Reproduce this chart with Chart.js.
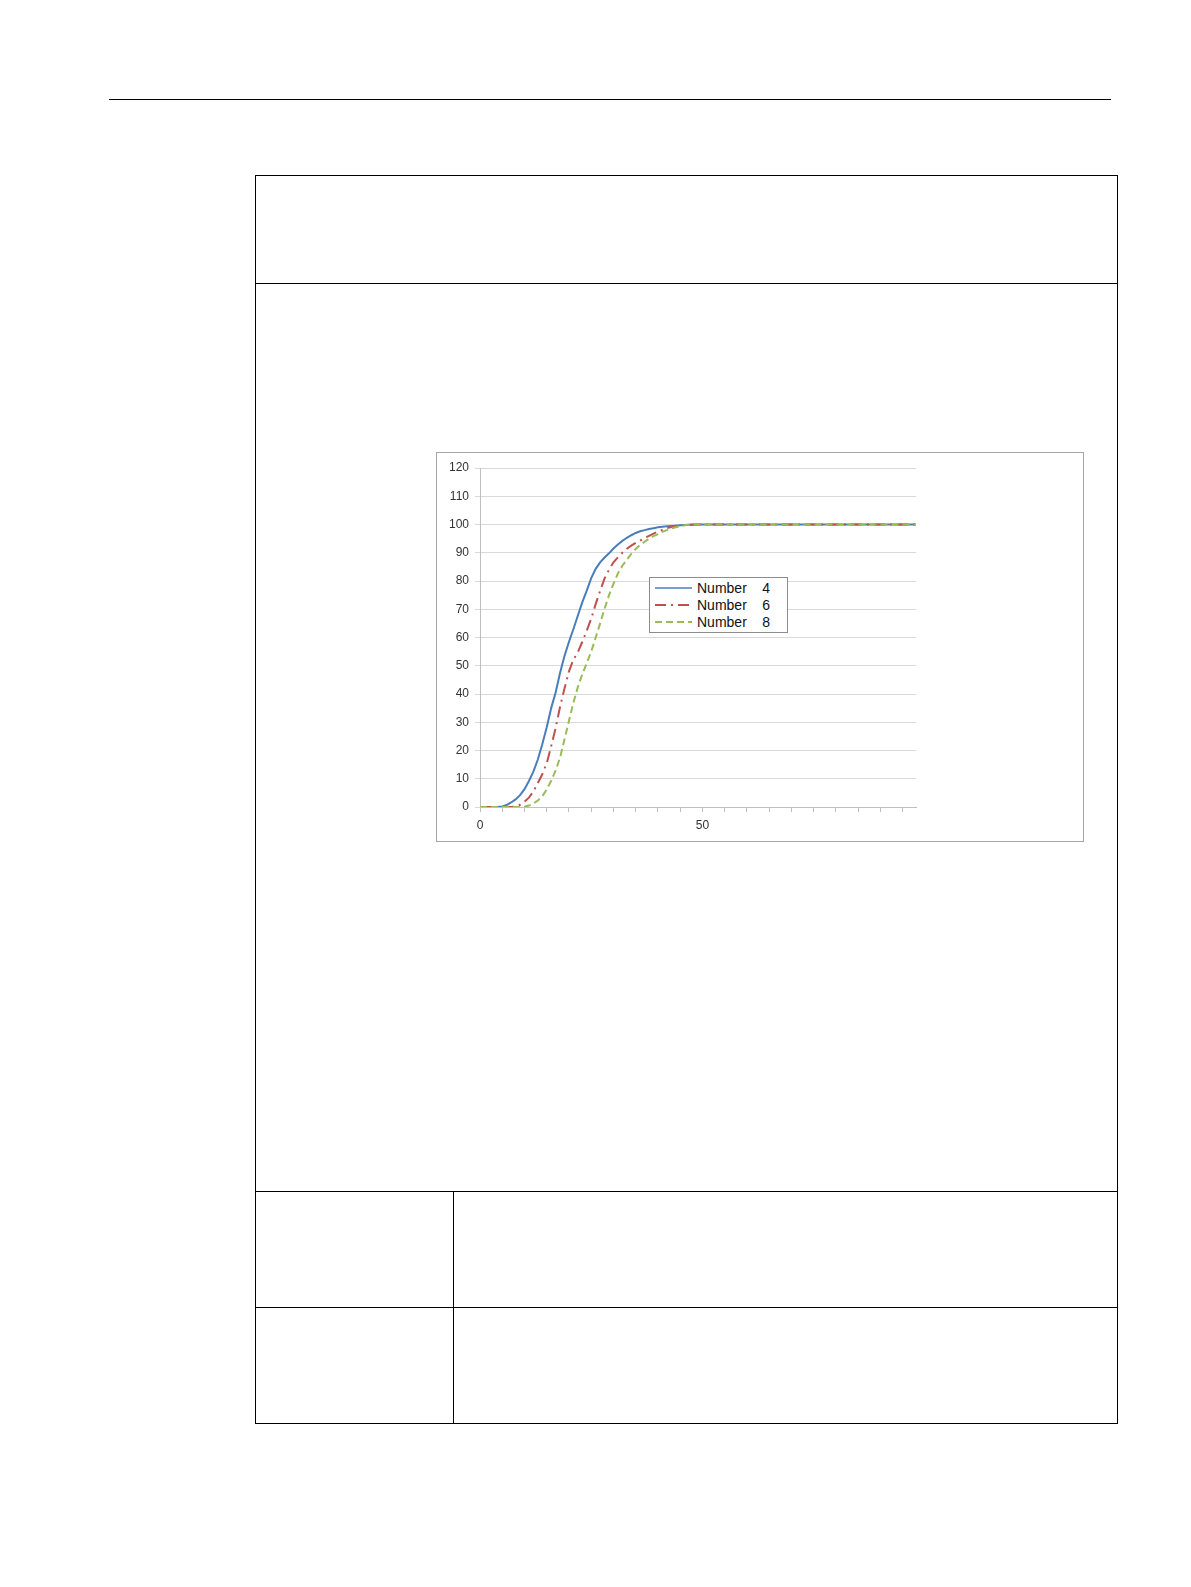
<!DOCTYPE html>
<html>
<head>
<meta charset="utf-8">
<script src="https://cdn.jsdelivr.net/npm/chart.js@4.4.1/dist/chart.umd.min.js"></script>
<style>
  html, body { margin: 0; padding: 0; background: #fff; }
  body { width: 1191px; height: 1587px; position: relative; font-family: "Liberation Sans", Arial, sans-serif; }
  .rule { position: absolute; left: 109px; top: 99px; width: 1002px; height: 0; border-top: 1px solid #000; }
  .hline { position: absolute; height: 0; border-top: 1.5px solid #000; }
  .vline { position: absolute; width: 0; border-left: 1.5px solid #000; }
  #chartBox { position: absolute; left: 436px; top: 452px; width: 648px; height: 390px;
              border: 1px solid #a6a6a6; box-sizing: border-box; background: #fff; }
  #chartWrap { position: absolute; left: 0; top: 0; width: 646px; height: 388px; }
  #custom-legend { position: absolute; left: 649px; top: 577px; width: 139px; height: 56px;
                   border: 1.5px solid #8c8c8c; box-sizing: border-box; background: #fff; padding-top: 1px; }
  .chart-legend-item { height: 17.3px; display: flex; align-items: center; font-size: 14px; color: #111; }
  .chart-legend-item svg { margin-left: 5px; margin-right: 5px; }
  .chart-legend-text { white-space: pre; }
</style>
</head>
<body>
<div class="rule"></div>

<div class="hline" style="left:255px; top:175px; width:862px;"></div>
<div class="hline" style="left:255px; top:283px; width:862px;"></div>
<div class="hline" style="left:255px; top:1191px; width:862px;"></div>
<div class="hline" style="left:255px; top:1307px; width:862px;"></div>
<div class="hline" style="left:255px; top:1423px; width:862px;"></div>
<div class="vline" style="left:255px; top:175px; height:1249px;"></div>
<div class="vline" style="left:1117px; top:175px; height:1249px;"></div>
<div class="vline" style="left:453px; top:1191px; height:233px;"></div>

<div id="chartBox"><div id="chartWrap"><canvas id="myChart"></canvas></div></div>
<div id="custom-legend"></div>

<script>
// categories (x values)
const categories = [
  0, 1, 2, 3, 4, 5, 6, 7, 8, 9, 10, 11, 12, 13, 14, 15, 16, 17, 18, 19,
  20, 21, 22, 23, 24, 25, 26, 27, 28, 29, 30, 31, 32, 33, 34, 35, 36, 37, 38, 39,
  40, 41, 42, 43, 44, 45, 46, 47, 48, 49, 50, 51, 52, 53, 54, 55, 56, 57, 58, 59,
  60, 61, 62, 63, 64, 65, 66, 67, 68, 69, 70, 71, 72, 73, 74, 75, 76, 77, 78, 79,
  80, 81, 82, 83, 84, 85, 86, 87, 88, 89, 90, 91, 92, 93, 94, 95, 96, 97, 98
];
const xTickLabels = [0, 50];
const yTickValues = [0, 10, 20, 30, 40, 50, 60, 70, 80, 90, 100, 110, 120];

const number4 = [
  0, 0, 0, 0, 0, 0.2, 0.7, 1.6, 2.7, 4.2, 6.3, 9.2, 12.5, 16.8, 22.2, 28.2, 35, 40.5, 47.5, 53.5,
  58.5, 63, 67.8, 72.5, 76.6, 81, 84.3, 86.6, 88.3, 89.8, 91.5, 92.9, 94.2, 95.3, 96.2, 97, 97.6, 98, 98.4, 98.7,
  99, 99.2, 99.4, 99.5, 99.6, 99.7, 99.8, 99.9, 99.9, 100, 100, 100, 100, 100, 100, 100, 100, 100, 100, 100,
  100, 100, 100, 100, 100, 100, 100, 100, 100, 100, 100, 100, 100, 100, 100, 100, 100, 100, 100, 100,
  100, 100, 100, 100, 100, 100, 100, 100, 100, 100, 100, 100, 100, 100, 100, 100, 100, 100, 100
];
const number6 = [
  0, 0, 0, 0, 0, 0, 0, 0, 0.2, 0.8, 1.9, 3.3, 5.5, 8.5, 11.6, 15.5, 21.5, 28, 35.5, 42,
  48, 52.2, 54.8, 58.5, 62.4, 66.7, 71.8, 76.5, 80.9, 84, 86.6, 88.4, 90, 91.4, 92.5, 93.5, 94.3, 95.2, 96, 96.8,
  97.5, 98.1, 98.7, 99.1, 99.4, 99.6, 99.8, 99.9, 100, 100, 100, 100, 100, 100, 100, 100, 100, 100, 100, 100,
  100, 100, 100, 100, 100, 100, 100, 100, 100, 100, 100, 100, 100, 100, 100, 100, 100, 100, 100, 100,
  100, 100, 100, 100, 100, 100, 100, 100, 100, 100, 100, 100, 100, 100, 100, 100, 100, 100, 100
];
const number8 = [
  0, 0, 0, 0, 0, 0, 0, 0, 0, 0, 0.1, 0.5, 1.2, 2.3, 3.8, 6.2, 9.3, 13, 17.5, 24,
  30.5, 37, 42.5, 47, 51, 55, 60, 65, 70.2, 75, 79, 82.7, 85.4, 87.5, 89.6, 91.3, 92.8, 93.9, 95, 95.9,
  96.6, 97.4, 98, 98.6, 99, 99.4, 99.7, 99.9, 100, 100, 100, 100, 100, 100, 100, 100, 100, 100, 100, 100,
  100, 100, 100, 100, 100, 100, 100, 100, 100, 100, 100, 100, 100, 100, 100, 100, 100, 100, 100, 100,
  100, 100, 100, 100, 100, 100, 100, 100, 100, 100, 100, 100, 100, 100, 100, 100, 100, 100, 100
];

const seriesNames = ['Number    4', 'Number    6', 'Number    8'];

const ctx = document.getElementById('myChart').getContext('2d');
const tickFont = { family: '"Liberation Sans", Arial, sans-serif', size: 12 };

function createChart(ctx) {
    return new Chart(ctx, {
        type: 'line',
        data: {
            labels: categories,
            datasets: [{
                label: seriesNames[0],
                data: number4,
                borderColor: '#4a7ebb',
                borderWidth: 2,
                pointRadius: 0,
                tension: 0,
                order: 3
            }, {
                label: seriesNames[1],
                data: number6,
                borderColor: '#c0504d',
                borderWidth: 2,
                borderDash: [11, 5, 2, 5],
                pointRadius: 0,
                tension: 0,
                order: 2
            }, {
                label: seriesNames[2],
                data: number8,
                borderColor: '#9bbb59',
                borderWidth: 2,
                borderDash: [7, 4],
                pointRadius: 0,
                tension: 0,
                order: 1
            }]
        },
        options: {
            responsive: true,
            maintainAspectRatio: false,
            animation: false,
            layout: {
                padding: { left: 0, top: 15, right: 167, bottom: 0 }
            },
            plugins: {
                legend: { display: false },
                tooltip: { enabled: false }
            },
            scales: {
                x: {
                    type: 'category',
                    offset: false,
                    grid: {
                        drawOnChartArea: false,
                        drawTicks: true,
                        tickLength: 5,
                        color: (c) => (c.index % 5 === 0 ? '#bfbfbf' : 'rgba(0,0,0,0)')
                    },
                    border: { display: true, color: '#bfbfbf' },
                    ticks: {
                        autoSkip: false,
                        maxRotation: 0,
                        padding: 6,
                        color: '#333',
                        font: tickFont,
                        callback: function(value, index) {
                            return xTickLabels.includes(categories[index]) ? String(categories[index]) : '';
                        }
                    },
                    afterFit: (s) => { s.height = 34; }
                },
                y: {
                    min: 0,
                    max: 120,
                    grid: {
                        color: '#d9d9d9',
                        drawTicks: true,
                        tickLength: 5
                    },
                    border: { display: true, color: '#bfbfbf' },
                    afterBuildTicks: (s) => { s.ticks = yTickValues.map(v => ({ value: v })); },
                    ticks: {
                        padding: 6,
                        color: '#333',
                        font: tickFont
                    },
                    afterFit: (s) => { s.width = 43; }
                }
            }
        }
    });
}

let myChartInstance = createChart(ctx);

// legend drawn as HTML on top of the plot
function createCustomLegend(chart) {
    const legendContainer = document.getElementById('custom-legend');
    legendContainer.innerHTML = '';

    chart.data.datasets.forEach((dataset) => {
        const legendItem = document.createElement('div');
        legendItem.className = 'chart-legend-item';

        const dash = dataset.borderDash ? dataset.borderDash.join(' ') : 'none';
        legendItem.innerHTML =
            '<svg width="37" height="6"><line x1="0" y1="3" x2="37" y2="3" stroke="' + dataset.borderColor +
            '" stroke-width="' + (dataset.borderDash ? 2 : 1.5) + '" stroke-dasharray="' + dash + '"/></svg>';

        const legendText = document.createElement('span');
        legendText.className = 'chart-legend-text';
        legendText.innerText = dataset.label;
        legendItem.appendChild(legendText);
        legendContainer.appendChild(legendItem);
    });
}

createCustomLegend(myChartInstance);
</script>
</body>
</html>
